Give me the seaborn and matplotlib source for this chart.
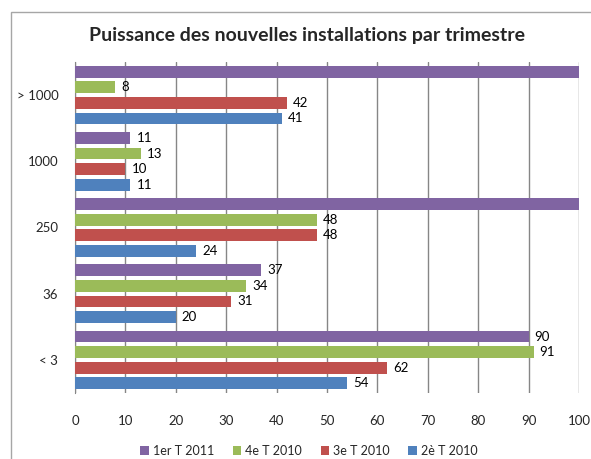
import pandas as pd
import matplotlib
matplotlib.use("Agg")
import matplotlib.pyplot as plt
from matplotlib.patches import Rectangle
import seaborn as sns

# Données
categories = ["> 1000", "1000", "250", "36", "< 3"]
trimestres = ["1er T 2011", "4e T 2010", "3e T 2010", "2è T 2010"]
t1_2011 = [130, 11, 125, 37, 90]   # >1000 et 250 dépassent l'axe (valeur non lisible)
t4_2010 = [8, 13, 48, 34, 91]
t3_2010 = [42, 10, 48, 31, 62]
t2_2010 = [41, 11, 24, 20, 54]
couleurs = ["#8064A2", "#9BBB59", "#C0504D", "#4F81BD"]

df = pd.DataFrame({
    "categorie": categories * 4,
    "trimestre": [t for t in trimestres for _ in categories],
    "valeur": t1_2011 + t4_2010 + t3_2010 + t2_2010,
})

sns.set_style("white")
plt.rcParams["font.family"] = ["Lato", "DejaVu Sans"]

fig = plt.figure(figsize=(5.91, 4.59), dpi=100)
ax = fig.add_axes([75 / 591, 1 - 393 / 459, 504 / 591, 331 / 459])

# cadre du graphique
fig.patches.append(Rectangle((11 / 591, -0.1), 2, 1.1 - 12 / 459,
                             transform=fig.transFigure, fill=False,
                             edgecolor="#a6a6a6", linewidth=1))

sns.barplot(data=df, y="categorie", x="valeur", hue="trimestre",
            order=categories, hue_order=trimestres, palette=couleurs,
            orient="h", width=0.94, saturation=1, ax=ax, zorder=3)

# petits espaces entre les barres
for p in ax.patches:
    h = p.get_height()
    p.set_y(p.get_y() + h * 0.12)
    p.set_height(h * 0.76)
    p.set_linewidth(0)

# étiquettes de valeurs
for cont in ax.containers:
    for p in cont:
        w = p.get_width()
        if w <= 100:
            ax.text(w + 1.2, p.get_y() + p.get_height() / 2, f"{w:.0f}",
                    va="center", ha="left", fontsize=9.5, color="black")

ax.set_xlim(0, 100)
ax.set_ylim(4.5, -0.5)
ax.set_xticks(range(0, 101, 10))
ax.xaxis.grid(True, color="#868686", linewidth=1, zorder=0)
ax.set_axisbelow(True)
ax.set_xlabel("")
ax.set_ylabel("")
for s in ["top", "right", "bottom"]:
    ax.spines[s].set_visible(False)
ax.spines["left"].set_color("#868686")
ax.tick_params(axis="x", length=4, color="#868686", pad=12, labelsize=9.5)
ax.tick_params(axis="y", length=0, pad=12, labelsize=9.5)

fig.text(307 / 591, 1 - 35 / 459, "Puissance des nouvelles installations par trimestre",
         ha="center", va="center", fontsize=14, fontweight="bold")

ax.legend(loc="center", bbox_to_anchor=(0.464, -0.175), ncol=4, frameon=False,
          fontsize=9, handlelength=0.7, handleheight=0.7, handletextpad=0.3,
          columnspacing=1.5)

fig.savefig("out.png", dpi=100)
